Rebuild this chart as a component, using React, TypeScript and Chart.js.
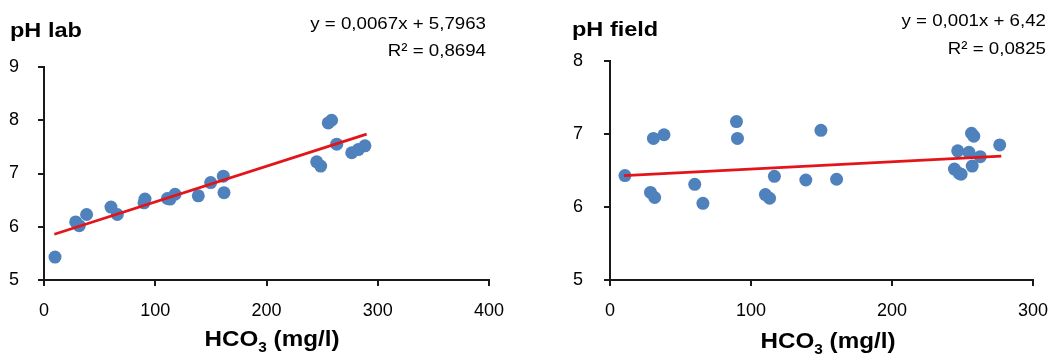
import React, { useEffect, useRef } from "react";
import { Chart, registerables } from "chart.js";

Chart.register(...registerables);

// ---- Data ----
const labHco3 = [9.9, 28.5, 31.7, 38.3, 60.2, 65.9, 89.9, 90.8, 110.9, 113.3, 117.8, 138.7, 149.8, 161.2, 161.8, 245.1, 248.7, 255.5, 258.5, 263.1, 276.6, 282.5, 288.5];
const labPh = [5.43, 6.09, 6.02, 6.23, 6.37, 6.23, 6.45, 6.52, 6.53, 6.52, 6.61, 6.58, 6.83, 6.95, 6.64, 7.22, 7.14, 7.95, 8.0, 7.55, 7.39, 7.45, 7.52];
const labSlope = 0.0067;
const labIntercept = 5.7963;
const labFitRange = [9.3, 290];
const labEquation = ["y = 0,0067x + 5,7963", "R\u00B2 = 0,8694"];

const fieldHco3 = [10.6, 28.7, 31.7, 30.8, 38.3, 60.1, 65.9, 89.7, 90.4, 110.2, 113.2, 116.6, 138.9, 149.6, 160.7, 244.3, 247.7, 249.0, 246.6, 254.6, 256.4, 258.0, 256.9, 262.6, 276.4];
const fieldPh = [6.43, 6.2, 6.13, 6.94, 6.99, 6.31, 6.05, 7.17, 6.94, 6.17, 6.12, 6.42, 6.37, 7.05, 6.38, 6.52, 6.46, 6.45, 6.77, 6.75, 7.01, 6.97, 6.56, 6.69, 6.85];
const fieldSlope = 0.001;
const fieldIntercept = 6.42;
const fieldFitRange = [9.9, 277.5];
const fieldEquation = ["y = 0,001x + 6,42", "R\u00B2 = 0,0825"];

const labXTicks = { min: 0, max: 400, step: 100 };
const labYTicks = { min: 5, max: 9, step: 1 };
const fieldXTicks = { min: 0, max: 300, step: 100 };
const fieldYTicks = { min: 5, max: 8, step: 1 };

const titles = ["pH lab", "pH field"];
const axisTitleParts = ["HCO", "3", " (mg/l)"];

const FONT = "'Liberation Sans', Arial, Helvetica, sans-serif";
const POINT_COLOR = "#4F81BD";
const LINE_COLOR = "#E3151B";
const AXIS_COLOR = "#1a1a1a";

function drawText(ctx: CanvasRenderingContext2D, text: string, x: number, y: number, font: string, sx: number, align: string) {
  ctx.save();
  ctx.font = font;
  ctx.textBaseline = "alphabetic";
  ctx.textAlign = "left";
  const w = ctx.measureText(text).width * sx;
  const left = align === "right" ? x - w : align === "center" ? x - w / 2 : x;
  ctx.translate(left, y);
  ctx.scale(sx, 1);
  ctx.fillStyle = "#000";
  ctx.fillText(text, 0, 0);
  ctx.restore();
  return w;
}

type Layout = {
  canvasLeft: number;
  width: number;
  yAxisWidth: number;
  padTop: number;
  padRight: number;
  yPad: number;
  titleX: number;
  titleY: number;
  eqRight: number;
  eqY: number[];
  axisTitleX: number;
  axisTitleY: number;
};

function makeTextPlugin(title: string, eq: string[], L: Layout) {
  return {
    id: "customText",
    afterDraw(chart: any) {
      const ctx: CanvasRenderingContext2D = chart.ctx;
      const off = L.canvasLeft;
      drawText(ctx, title, L.titleX - off, L.titleY, `bold 21px ${FONT}`, 1.12, "left");
      drawText(ctx, eq[0], L.eqRight - off, L.eqY[0], `17px ${FONT}`, 1.1, "right");
      drawText(ctx, eq[1], L.eqRight - off, L.eqY[1], `17px ${FONT}`, 1.1, "right");
      // axis title with subscript
      const mainFont = `bold 22px ${FONT}`;
      const subFont = `bold 14px ${FONT}`;
      const sx = 1.1;
      ctx.save();
      ctx.font = mainFont;
      const w1 = ctx.measureText(axisTitleParts[0]).width * sx;
      const w3 = ctx.measureText(axisTitleParts[2]).width * sx;
      ctx.font = subFont;
      const w2 = ctx.measureText(axisTitleParts[1]).width * sx;
      ctx.restore();
      const total = w1 + w2 + w3;
      let x = L.axisTitleX - off - total / 2;
      drawText(ctx, axisTitleParts[0], x, L.axisTitleY, mainFont, sx, "left");
      x += w1;
      drawText(ctx, axisTitleParts[1], x, L.axisTitleY + 6, subFont, sx, "left");
      x += w2;
      drawText(ctx, axisTitleParts[2], x, L.axisTitleY, mainFont, sx, "left");
    },
  };
}

function ScatterPanel(props: {
  xs: number[]; ys: number[]; slope: number; intercept: number; range: number[];
  eq: string[]; title: string; xt: any; yt: any; L: Layout;
}) {
  const ref = useRef<HTMLCanvasElement | null>(null);
  useEffect(() => {
    if (!ref.current) return;
    const { xs, ys, slope, intercept, range, eq, title, xt, yt, L } = props;
    const points = xs.map((x, i) => ({ x, y: ys[i] }));
    const fit = range.map((x) => ({ x, y: slope * x + intercept }));
    const tickFont = { family: FONT, size: 18 };
    const chart = new Chart(ref.current, {
      type: "scatter",
      data: {
        datasets: [
          {
            type: "line",
            data: fit,
            borderColor: LINE_COLOR,
            borderWidth: 2.8,
            pointRadius: 0,
            fill: false,
            order: 0,
          } as any,
          {
            type: "scatter",
            data: points,
            backgroundColor: POINT_COLOR,
            borderColor: POINT_COLOR,
            borderWidth: 0,
            pointRadius: 6.5,
            order: 1,
          },
        ],
      },
      options: {
        animation: false,
        responsive: false,
        devicePixelRatio: 1,
        layout: { padding: { top: L.padTop, right: L.padRight, left: 0, bottom: 0 } },
        plugins: { legend: { display: false }, tooltip: { enabled: false }, title: { display: false } },
        scales: {
          x: {
            type: "linear",
            min: xt.min,
            max: xt.max,
            ticks: { stepSize: xt.step, font: tickFont, color: "#000", padding: 14, maxRotation: 0 },
            grid: { drawOnChartArea: false, drawTicks: true, tickLength: 6, color: AXIS_COLOR, lineWidth: 2 },
            border: { color: AXIS_COLOR, width: 2 },
            afterFit: (s: any) => { s.height = 355 - 280; },
          },
          y: {
            type: "linear",
            min: yt.min,
            max: yt.max,
            ticks: { stepSize: yt.step, font: tickFont, color: "#000", padding: L.yPad },
            grid: { drawOnChartArea: false, drawTicks: true, tickLength: 6, color: AXIS_COLOR, lineWidth: 2 },
            border: { color: AXIS_COLOR, width: 2 },
            afterFit: (s: any) => { s.width = L.yAxisWidth; },
          },
        },
      },
      plugins: [makeTextPlugin(title, eq, L)],
    } as any);
    return () => chart.destroy();
  }, []);
  return (
    <div style={{ position: "absolute", left: props.L.canvasLeft, top: 0, width: props.L.width, height: 355 }}>
      <canvas ref={ref} width={props.L.width} height={355} style={{ display: "block" }} />
    </div>
  );
}

const leftLayout: Layout = {
  canvasLeft: 0, width: 530, yAxisWidth: 44, padTop: 67, padRight: 41, yPad: 19,
  titleX: 10, titleY: 37, eqRight: 486, eqY: [29, 56], axisTitleX: 272, axisTitleY: 346,
};
const rightLayout: Layout = {
  canvasLeft: 530, width: 532, yAxisWidth: 80, padTop: 61, padRight: 16, yPad: 21,
  titleX: 572, titleY: 36, eqRight: 1046, eqY: [26, 54], axisTitleX: 828, axisTitleY: 348,
};

export default function App() {
  return (
    <div style={{ position: "fixed", left: 0, top: 0, width: 1062, height: 355, background: "#fff" }}>
      <ScatterPanel xs={labHco3} ys={labPh} slope={labSlope} intercept={labIntercept} range={labFitRange}
        eq={labEquation} title={titles[0]} xt={labXTicks} yt={labYTicks} L={leftLayout} />
      <ScatterPanel xs={fieldHco3} ys={fieldPh} slope={fieldSlope} intercept={fieldIntercept} range={fieldFitRange}
        eq={fieldEquation} title={titles[1]} xt={fieldXTicks} yt={fieldYTicks} L={rightLayout} />
    </div>
  );
}
